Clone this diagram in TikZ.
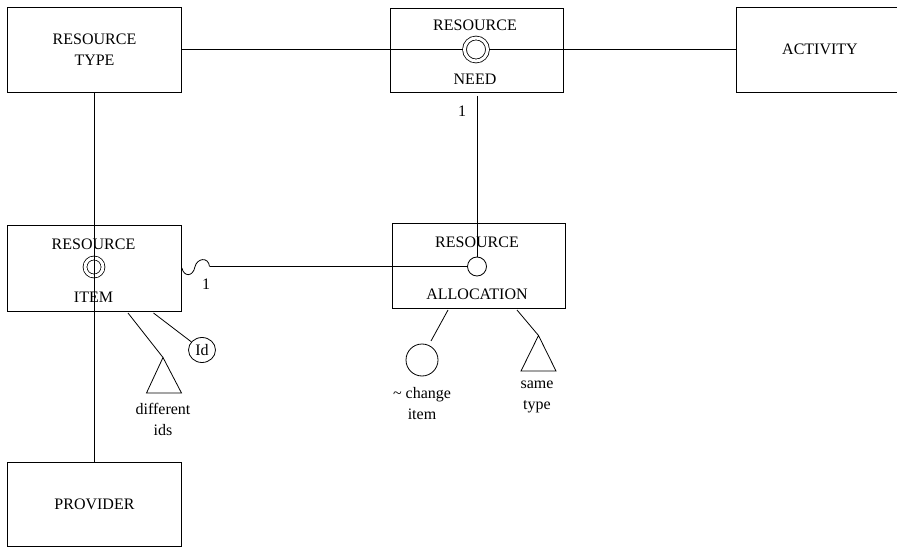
\documentclass[tikz,border=0pt]{standalone}
\usepackage{fontspec}
\setmainfont{Liberation Serif}
\usetikzlibrary{shapes.geometric}
\begin{document}
\begin{tikzpicture}[x=1pt,y=-1pt,line width=0.8pt,
    every node/.style={font=\fontsize{16}{18}\selectfont},
    entity/.style={draw,rectangle,inner sep=0pt,align=center},
    note/.style={align=center,font=\fontsize{16}{21}\selectfont},
    refdot/.style={circle,draw,inner sep=0pt,minimum size=18pt,double,double distance=3pt,outer sep=2pt},
    lookup/.style={circle,draw,inner sep=0pt,minimum size=19pt}]
  \useasboundingbox (0,0) rectangle (897,548);
  % entities
  \draw
    (94.5,49.75) node[entity,minimum width=174pt,minimum height=84.5pt,font=\fontsize{16}{21.5}\selectfont] (type){RESOURCE\\TYPE}
    (476.5,50) node[entity,minimum width=173pt,minimum height=84pt] (need){}
    (820,49.75) node[entity,minimum width=168pt,minimum height=84.5pt] (activity){ACTIVITY}
    (94.5,268) node[entity,minimum width=174pt,minimum height=86pt] (item){}
    (478.5,265.5) node[entity,minimum width=173pt,minimum height=85pt] (alloc){}
    (94.5,504.5) node[entity,minimum width=174pt,minimum height=84pt] (provider){PROVIDER};
  \draw
    (475,25) node (needtop){RESOURCE}
    (475,79) node (needbot){NEED}
    (93.5,244) node (itemtop){RESOURCE}
    (93.5,297) node (itembot){ITEM}
    (477,242) node (alloctop){RESOURCE}
    (477,294) node (allocbot){ALLOCATION};
  \node[refdot,minimum size=23pt] (needc) at (476,49.5) {};
  \node[refdot,outer sep=0pt] (itemc) at (94,267) {};
  \node[lookup] (allocc) at (477,266.5) {};
  % attributes and constraints
  \node[ellipse,draw,inner sep=0pt,minimum width=27pt,minimum height=25pt] (id) at (202,350) {Id};
  \node[circle,draw,inner sep=0pt,minimum size=32pt] (change) at (422,360) {};
  \coordinate (diffapex) at (163,357.5);
  \coordinate (sameapex) at (538.5,335.5);
  \draw (diffapex) -- (146.5,393) -- (181.5,393) -- cycle;
  \draw (sameapex) -- (521,371) -- (556,371) -- cycle;
  \node[note] (difflbl) at (163,419) {different\\ids};
  \node[note] (changelbl) at (422,404) {\textasciitilde{} change\\item};
  \node[note] (samelbl) at (537,397) {same\\type};
  \node (needone) at (462,111) {1};
  \node (itemone) at (206,284) {1};
  \coordinate (needout) at (477,96);
  \coordinate (hop) at (209.5,266.5);
  \coordinate (itemdiff) at (128,313);
  \coordinate (itemid) at (153.5,313);
  \coordinate (allocchange) at (448,310);
  \coordinate (changein) at (431,341);
  \coordinate (allocsame) at (517,310);
  % connectors
  \begin{scope}[-]
    \draw (type.east |- needc) to (needc);
    \draw (needc) to (activity.west |- needc);
    \draw (type.south -| itemc) to (provider.north -| itemc);
    \draw (needout) to (allocc);
    \draw (item.east) .. controls +(2,9) and +(-2,10) .. ++(13,-1)
      .. controls +(2,-9) and +(-1,-10) .. (hop);
    \draw (hop) to (allocc);
    \draw (itemdiff) to (diffapex);
    \draw (itemid) to (id);
    \draw (allocchange) to (changein);
    \draw (allocsame) to (sameapex);
  \end{scope}
\end{tikzpicture}
\end{document}
